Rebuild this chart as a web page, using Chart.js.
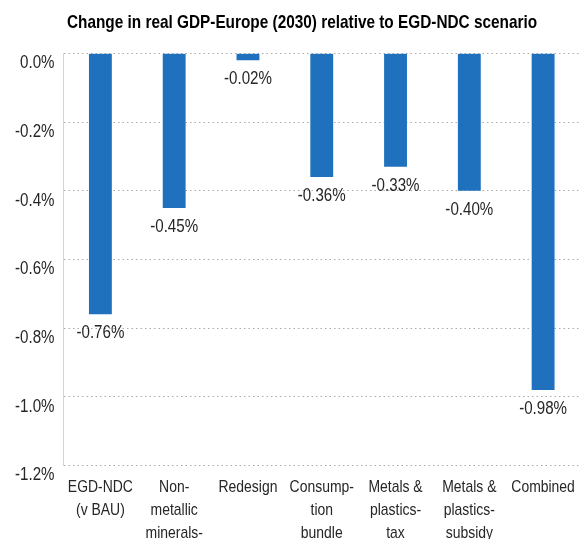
<!DOCTYPE html>
<html>
<head>
<meta charset="utf-8">
<title>Change in real GDP-Europe (2030)</title>
<script src="https://cdn.jsdelivr.net/npm/chart.js@4"></script>
<style>
    html, body { margin: 0; padding: 0; background: #fff; }
    #wrap { width: 581px; height: 539px; }
</style>
</head>
<body>
<div id="wrap"><canvas id="gdpChart"></canvas></div>
<script>
var chartTitle = 'Change in real GDP-Europe (2030) relative to EGD-NDC scenario';
// scenarios (x axis), wrapped like the original
var scenarios = [
    ["EGD-NDC", "(v BAU)"],
    ["Non-", "metallic", "minerals-", "tax"],
    ["Redesign"],
    ["Consump-", "tion", "bundle"],
    ["Metals &", "plastics-", "tax"],
    ["Metals &", "plastics-", "subsidy"],
    ["Combined"]
];
// change in real GDP, %
var gdpChange = [-0.76, -0.45, -0.02, -0.36, -0.33, -0.40, -0.98];
// y axis range / step, %
var yMin = -1.2;
var yMax = 0;
var yStep = 0.2;

// no narrow font installed, so squeeze Liberation Sans sideways
function narrowText(ctx, text, x, y, squeeze) {
    ctx.save();
    ctx.translate(x, y);
    ctx.scale(squeeze, 1);
    ctx.fillText(text, 0, 0);
    ctx.restore();
}

// title, axis labels and value labels drawn in narrow type
var narrowLabels = {
    id: 'narrowLabels',
    afterDraw(chart) {
        var ctx = chart.ctx;
        var xs = chart.scales.x;
        var ys = chart.scales.y;
        var area = chart.chartArea;
        ctx.save();
        ctx.textBaseline = 'middle';

        // title
        ctx.fillStyle = '#000';
        ctx.font = 'bold 18.5px "Liberation Sans", Arial, sans-serif';
        ctx.textAlign = 'center';
        narrowText(ctx, chartTitle, 302, 22.5, 0.83);

        ctx.fillStyle = '#262626';
        // y ticks, a little under each grid line
        ctx.font = '18px "Liberation Sans", Arial, sans-serif';
        ctx.textAlign = 'right';
        ys.ticks.forEach(function (t) {
            narrowText(ctx, t.value.toFixed(1) + '%', area.left - 9, ys.getPixelForValue(t.value) + 10, 0.84);
        });

        // x category labels
        ctx.font = '17px "Liberation Sans", Arial, sans-serif';
        ctx.textAlign = 'center';
        scenarios.forEach(function (lines, i) {
            var x = xs.getPixelForValue(i);
            lines.forEach(function (line, j) {
                narrowText(ctx, line, x, area.bottom + 21.5 + j * 23.3, 0.82);
            });
        });

        // values under the bar ends
        ctx.font = '18px "Liberation Sans", Arial, sans-serif';
        chart.getDatasetMeta(0).data.forEach(function (bar, i) {
            narrowText(ctx, gdpChange[i].toFixed(2) + '%', bar.x, bar.y + 19, 0.84);
        });
        ctx.restore();
    }
};

var ctx = document.getElementById('gdpChart').getContext('2d');
var gdpChart = new Chart(ctx, {
    type: 'bar',
    data: {
        labels: scenarios,
        datasets: [{
            data: gdpChange,
            backgroundColor: '#1f71bd',
            categoryPercentage: 1,
            barPercentage: 0.31
        }]
    },
    options: {
        responsive: true,
        maintainAspectRatio: false,
        animation: false,
        layout: { padding: { left: 0, right: 1, top: 53.3, bottom: 0 } },
        plugins: {
            legend: { display: false },
            tooltip: { enabled: false },
            title: { display: false }
        },
        scales: {
            x: {
                grid: { display: false, drawTicks: false },
                border: { display: false },
                ticks: { display: false },
                afterFit: function (scale) { scale.height = 73.5; }
            },
            y: {
                min: yMin,
                max: yMax,
                grid: {
                    color: '#aaa',
                    drawTicks: false
                },
                border: { display: true, color: '#d4d4d4', dash: [1.5, 3] },
                ticks: { display: false, stepSize: yStep },
                afterFit: function (scale) { scale.width = 63.5; }
            }
        }
    },
    plugins: [narrowLabels]
});
</script>
</body>
</html>
